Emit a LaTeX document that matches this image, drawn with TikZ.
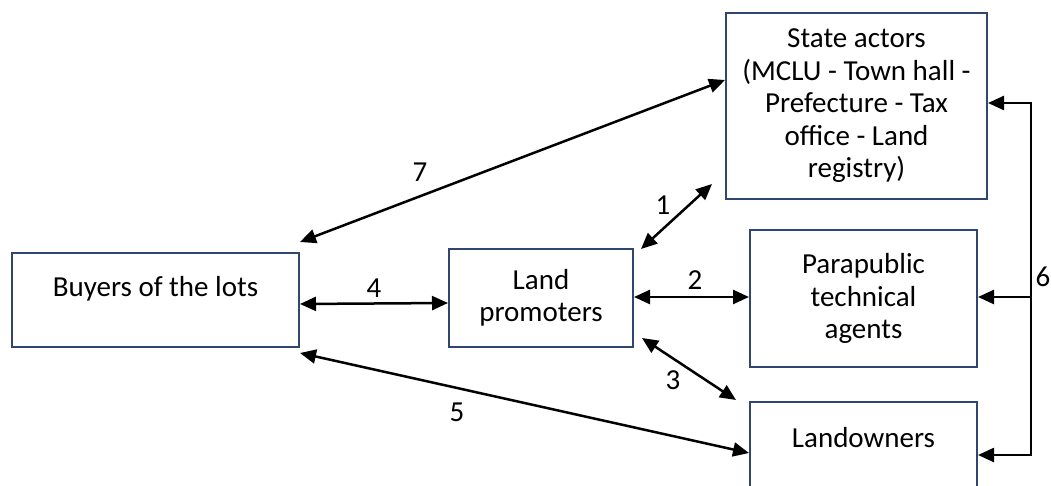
\documentclass[tikz,border=0pt]{standalone}
\usepackage{fontspec}
\setmainfont{Carlito}
\usetikzlibrary{arrows.meta}
\definecolor{boxnavy}{RGB}{47,70,110}
\begin{document}
\begin{tikzpicture}[x=1pt,y=-1pt,
  every node/.style={font=\fontsize{29}{32.5}\selectfont},
  actor/.style={draw=boxnavy,line width=2pt,rectangle,inner sep=0pt,align=center,fill=white},
  link/.style={line width=2.5pt,draw=black,{Triangle[length=16pt,width=14pt]}-{Triangle[length=16pt,width=14pt]}},
  num/.style={inner sep=1pt}]
\useasboundingbox (0,0) rectangle (1051,486);
\clip (0,0) rectangle (1051,486);
\node[actor,minimum width=287pt,minimum height=94pt,label={[yshift=11pt]center:Buyers of the lots}] (buyers) at (155.5,300) {};
\node[actor,minimum width=184pt,minimum height=98pt] (promo) at (541,298) {Land\\promoters};
\node[actor,minimum width=261pt,minimum height=186pt] (state) at (856.5,106) {State actors\\(MCLU - Town hall -\\Prefecture - Tax\\office - Land\\registry)};
\node[actor,minimum width=227pt,minimum height=137pt] (para) at (863.5,298.5) {Parapublic\\technical\\agents};
\node[actor,minimum width=227pt,minimum height=98pt,label={[yshift=13pt]center:Landowners}] (land) at (863.5,451) {};
% connectors
\draw[link] ([yshift=-4pt]buyers.east) -- ([yshift=-5pt]promo.west) node[midway,above=4pt,num] (n4) {4};
\draw[link] ([xshift=7pt,yshift=-1pt]promo.north east) -- ([xshift=-13pt,yshift=16pt]state.south west);
\node[num] (n1) at (663,205) {1};
\draw[link] ([yshift=1pt]promo.east) -- ([yshift=1.5pt]para.west);
\node[num] (n2) at (695,280) {2};
\draw[link] ([xshift=8pt,yshift=10pt]promo.south east) -- ([xshift=-13pt,yshift=1pt]land.north west);
\node[num] (n3) at (673,380) {3};
\draw[link] ([yshift=-5pt]buyers.south east) -- ([yshift=-2pt]land.west);
\node[num] (n5) at (457,412) {5};
\draw[link] ([yshift=10pt]buyers.north east) -- ([yshift=26pt]state.west);
\node[num] (n7) at (420,172) {7};
\coordinate (bustop) at (1031,103);
\coordinate (busmid) at (1031,297);
\coordinate (busbot) at (1031,455);
\draw[link,line join=miter] ([yshift=3pt]state.east) -- (bustop) -- (busbot) -- ([yshift=-4pt]land.east);
\draw[line width=2.5pt,-{Triangle[length=16pt,width=14pt]}] (busmid) -- (para.east |- busmid);
\node[num] (n6) at (1043,277) {6};
\end{tikzpicture}
\end{document}
